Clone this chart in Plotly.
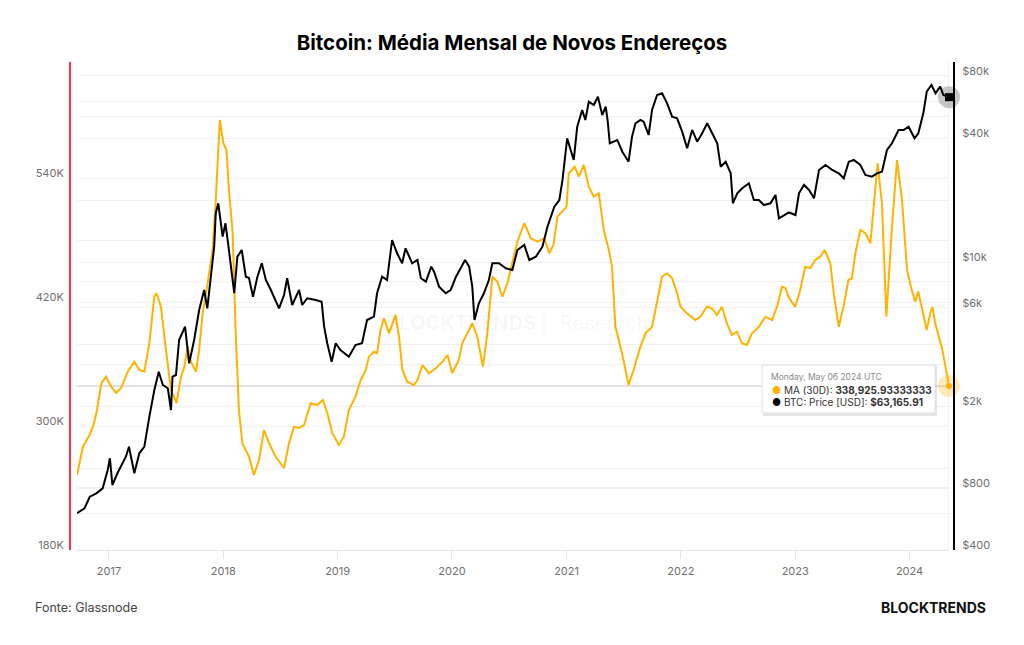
import plotly.graph_objects as go

# ---------------- data ----------------
ma_dates = ["2016-09-21","2016-10-10","2016-10-31","2016-11-11","2016-11-22","2016-12-08","2016-12-23",
"2017-01-08","2017-01-24","2017-02-09","2017-03-02","2017-03-23","2017-04-08","2017-04-24","2017-05-10",
"2017-05-26","2017-06-02","2017-06-16","2017-07-02","2017-07-18","2017-08-05","2017-08-19","2017-08-30",
"2017-09-09","2017-09-20","2017-10-06","2017-10-16","2017-10-27","2017-11-12","2017-11-28","2017-12-08",
"2017-12-21","2018-01-01","2018-01-11","2018-01-20","2018-01-31","2018-02-09","2018-02-20","2018-03-03",
"2018-03-24","2018-04-09","2018-04-25","2018-05-11","2018-05-27","2018-06-17","2018-07-14","2018-07-30",
"2018-08-15","2018-08-31","2018-09-16","2018-10-07","2018-10-28","2018-11-15","2018-11-29","2018-12-15",
"2019-01-05","2019-01-21","2019-02-06","2019-02-27","2019-03-16","2019-04-01","2019-04-11","2019-04-27",
"2019-05-07","2019-05-18","2019-05-29","2019-06-14","2019-06-25","2019-07-05","2019-07-16","2019-07-27",
"2019-08-11","2019-09-02","2019-09-13","2019-09-29","2019-10-20","2019-11-11","2019-12-02","2019-12-18",
"2020-01-02","2020-01-23","2020-02-03","2020-02-19","2020-03-06","2020-03-22","2020-04-09","2020-04-23",
"2020-05-09","2020-05-25","2020-06-10","2020-06-26","2020-07-12","2020-07-28","2020-08-19","2020-09-09",
"2020-09-30","2020-10-22","2020-11-07","2020-11-20","2020-12-03","2020-12-19","2021-01-01","2021-01-08",
"2021-01-27","2021-02-09","2021-02-25","2021-03-13","2021-03-29","2021-04-14","2021-04-30","2021-05-16",
"2021-05-26","2021-06-06","2021-06-27","2021-07-18","2021-08-03","2021-08-25","2021-09-10","2021-10-01",
"2021-10-17","2021-11-02","2021-11-18","2021-12-04","2021-12-20","2021-12-31","2022-01-20","2022-02-16",
"2022-03-04","2022-03-25","2022-04-10","2022-04-26","2022-05-12","2022-05-28","2022-06-13","2022-06-29",
"2022-07-15","2022-07-31","2022-08-16","2022-09-07","2022-09-28","2022-10-19","2022-11-04","2022-11-20",
"2022-12-01","2022-12-12","2023-01-01","2023-01-17","2023-02-02","2023-02-18","2023-03-06","2023-03-22",
"2023-04-05","2023-04-23","2023-05-04","2023-05-20","2023-06-04","2023-06-20","2023-07-01","2023-07-12",
"2023-07-28","2023-08-13","2023-08-29","2023-09-08","2023-09-21","2023-10-05","2023-10-19","2023-11-06",
"2023-11-22","2023-12-08","2023-12-24","2024-01-08","2024-01-19","2024-01-29","2024-02-09","2024-02-25",
"2024-03-07","2024-03-14","2024-03-23","2024-04-08","2024-04-15","2024-05-06"]
ma_values = [252700,280100,291500,299500,312800,341900,348000,
338300,332200,337000,352800,362500,354500,352800,380600,
425500,428800,415800,373900,335100,322500,348000,357700,
377100,362500,352800,373900,409400,438500,470800,519300,
596800,574500,567700,526000,487300,396400,315700,283400,
270400,252700,267200,296300,283700,270400,259500,283700,
299500,298300,301200,322200,320500,325400,312800,293400,
281800,289800,315700,328600,344800,354500,367400,372200,
370700,393200,404600,390000,399700,407800,386700,354500,
343100,339900,344800,359300,351300,356100,362500,369000,
351300,364200,380400,390000,399700,386700,357700,390000,
444900,440100,425500,438500,457900,478800,496700,482100,
478800,482100,467600,475600,503100,508000,512800,545100,
551500,541800,553200,532200,522500,525700,490200,470800,
454600,396400,371000,339900,354500,377100,390000,396400,
422300,444900,448200,443400,428800,415800,409400,402900,
406100,415800,414300,407800,415800,399700,388400,391600,
380400,378700,390000,396400,406100,402900,415800,435200,
433700,424300,415800,432000,454600,453100,461100,464300,
470800,457900,428800,396400,415800,441700,443400,467600,
490200,487000,477300,512800,554800,516100,406100,493400,
558000,519300,451400,432000,420700,430400,415800,393200,
409400,415800,399700,380400,373900,338925.93333333]

price_dates = ["2016-09-21","2016-10-15","2016-11-01","2016-11-22","2016-12-12","2016-12-28","2017-01-04",
"2017-01-12","2017-01-28","2017-02-13","2017-02-24","2017-03-06","2017-03-23","2017-04-08","2017-04-24",
"2017-05-10","2017-05-26","2017-06-09","2017-06-22","2017-07-08","2017-07-18","2017-07-23","2017-08-03",
"2017-08-13","2017-09-01","2017-09-14","2017-09-30","2017-10-16","2017-11-01","2017-11-11","2017-11-22",
"2017-12-03","2017-12-08","2017-12-16","2017-12-30","2018-01-08","2018-01-19","2018-02-05","2018-02-15",
"2018-03-01","2018-03-14","2018-03-24","2018-04-06","2018-04-20","2018-05-04","2018-05-17","2018-06-02",
"2018-06-17","2018-06-28","2018-07-14","2018-07-24","2018-08-09","2018-08-31","2018-09-10","2018-09-26",
"2018-10-23","2018-11-11","2018-11-19","2018-11-29","2018-12-13","2018-12-26","2019-01-10","2019-02-06",
"2019-02-27","2019-03-20","2019-04-05","2019-04-27","2019-05-07","2019-05-23","2019-06-08","2019-06-24",
"2019-07-10","2019-07-26","2019-08-06","2019-08-27","2019-09-13","2019-09-24","2019-10-10","2019-10-27",
"2019-11-05","2019-11-21","2019-12-12","2019-12-28","2020-01-14","2020-01-30","2020-02-12","2020-02-25",
"2020-03-06","2020-03-13","2020-03-27","2020-04-12","2020-04-28","2020-05-09","2020-05-30","2020-06-21",
"2020-07-12","2020-07-28","2020-08-19","2020-09-04","2020-09-25","2020-10-16","2020-11-01","2020-11-23",
"2020-12-09","2020-12-19","2021-01-03","2021-01-14","2021-01-24","2021-02-04","2021-02-20","2021-03-02",
"2021-03-13","2021-03-29","2021-04-11","2021-04-25","2021-05-06","2021-05-12","2021-05-19","2021-06-12",
"2021-06-28","2021-07-18","2021-07-29","2021-08-09","2021-08-25","2021-09-04","2021-09-20","2021-10-01",
"2021-10-17","2021-11-02","2021-11-18","2021-12-04","2021-12-20","2022-01-05","2022-01-21","2022-02-06",
"2022-02-22","2022-03-10","2022-03-26","2022-04-11","2022-04-27","2022-05-08","2022-05-24","2022-06-09",
"2022-06-16","2022-06-30","2022-07-16","2022-08-06","2022-08-22","2022-09-07","2022-09-23","2022-10-14",
"2022-10-30","2022-11-10","2022-11-26","2022-12-12","2023-01-02","2023-01-13","2023-01-29","2023-02-14",
"2023-03-02","2023-03-18","2023-04-08","2023-04-29","2023-05-20","2023-06-05","2023-06-21","2023-07-07",
"2023-07-28","2023-08-13","2023-09-03","2023-09-19","2023-10-05","2023-10-21","2023-11-06","2023-11-27",
"2023-12-13","2023-12-29","2024-01-17","2024-01-29","2024-02-14","2024-02-25","2024-03-11","2024-03-24",
"2024-04-08","2024-04-18","2024-05-06"]
price_values = [603,638,726,754,797,979,1115,
827,943,1055,1135,1269,943,1179,1269,
1775,2392,2935,2530,2439,1913,2776,2828,
4184,4854,3222,4184,5849,7317,5961,8180,
11870,17250,19280,13280,15420,11440,7054,10615,
11440,8490,8370,6787,8490,9858,8180,7317,
6543,5961,6918,8340,6186,7317,6186,6669,
6543,6420,4854,4032,3282,4032,3742,3471,
3956,4032,5230,5428,7054,8490,8180,12790,
11025,9858,11660,9858,10230,8340,8030,9494,
8975,7591,7054,7317,8490,9494,10230,9494,
7591,5230,6305,7054,8180,9858,9858,9322,
9144,11440,12100,10230,10615,11870,14840,18550,
20000,25030,39860,34980,31290,45390,54710,48910,
60020,57860,63470,51720,56760,48910,37710,39130,
34320,30700,40580,47140,48910,48000,41370,54710,
64700,65930,58970,50740,49850,42930,35650,43750,
38390,42170,47140,42170,37710,29020,30700,26960,
19280,21560,22810,24110,20000,20000,18910,19280,
21160,16300,16910,17400,16910,21560,23660,22380,
20390,27970,29580,27970,26960,25500,30700,31290,
29580,26460,25960,26960,27450,34980,37710,43750,
43750,45390,39860,42170,52710,67140,72350,65930,
70980,64700,63165.91]

left_tickvals = [180000, 240000, 300000, 360000, 420000, 480000, 540000, 600000]
left_ticktext = ["180K", "", "300K", "", "420K", "", "540K", ""]
right_tickvals = [400, 600, 800, 1000, 2000, 4000, 6000, 8000, 10000, 20000, 40000, 60000, 80000]
right_ticktext = ["$400", "", "$800", "", "$2k", "", "$6k", "", "$10k", "", "$40k", "", "$80k"]

hover_date = "2024-05-06"
hover_ma = 338925.93333333
hover_price = 63165.91

ORANGE = "#FFB300"
FONT = "Inter, Roboto, Arial, sans-serif"

fig = go.Figure()
fig.add_trace(go.Scatter(x=ma_dates, y=ma_values, mode="lines", yaxis="y",
                         line=dict(color=ORANGE, width=2), hoverinfo="skip"))
fig.add_trace(go.Scatter(x=price_dates, y=price_values, mode="lines", yaxis="y2",
                         line=dict(color="#000000", width=2), hoverinfo="skip"))
# hover markers at the last point
fig.add_trace(go.Scatter(x=[hover_date], y=[hover_ma], mode="markers", yaxis="y", cliponaxis=False,
                         marker=dict(size=22, color="rgba(255,179,0,0.28)"), hoverinfo="skip"))
fig.add_trace(go.Scatter(x=[hover_date], y=[hover_ma], mode="markers", yaxis="y", cliponaxis=False,
                         marker=dict(size=6, color=ORANGE), hoverinfo="skip"))
fig.add_trace(go.Scatter(x=[hover_date], y=[hover_price], mode="markers", yaxis="y2", cliponaxis=False,
                         marker=dict(size=22, color="rgba(0,0,0,0.22)"), hoverinfo="skip"))
fig.add_trace(go.Scatter(x=[hover_date], y=[hover_price], mode="markers", yaxis="y2", cliponaxis=False,
                         marker=dict(size=8, color="#000000", symbol="square"), hoverinfo="skip"))

W, H = 1024, 645
L, R, T, B = 70, 70, 62, 95
pw = W - L - R
ph = H - T - B

def px(x):
    return (x - L) / pw

def py(y):
    return (H - B - y) / ph

fig.update_layout(
    width=W, height=H,
    margin=dict(l=L, r=R, t=T, b=B),
    paper_bgcolor="white", plot_bgcolor="white",
    showlegend=False,
    font=dict(family=FONT, color="#707070", size=11),
    title=dict(text="<b>Bitcoin: Média Mensal de Novos Endereços</b>", x=0.5, xanchor="center",
               y=1 - 43 / H, yanchor="middle", font=dict(family=FONT, size=20.5, color="#000000")),
    xaxis=dict(type="date", range=[ma_dates[0], hover_date], domain=[px(77), px(949)],
               showgrid=False, showline=True, linecolor="#e6e6e6", linewidth=1,
               ticks="outside", ticklen=8, tickcolor="#e6e6e6", tickwidth=1,
               dtick="M12", tick0="2017-01-01", tickformat="%Y", ticklabelstandoff=3,
               tickfont=dict(size=11, color="#707070"), zeroline=False),
    yaxis=dict(range=[180000, 653000], anchor="free", position=0, side="left",
               tickvals=left_tickvals, ticktext=left_ticktext,
               showgrid=True, gridcolor="#f0f0f0", gridwidth=1, zeroline=False,
               showline=True, linecolor="#FF3344", linewidth=2, ticks="",
               ticklabelshift=-5, ticklabelstandoff=3, tickfont=dict(size=11, color="#707070")),
    yaxis2=dict(type="log", range=[2.60206, 4.9710], anchor="free", position=1, side="right",
                overlaying="y", tickvals=right_tickvals, ticktext=right_ticktext,
                showgrid=True, gridcolor="#f0f0f0", gridwidth=1, zeroline=False,
                showline=True, linecolor="#000000", linewidth=2, ticks="",
                ticklabelshift=-5, ticklabelstandoff=5, tickfont=dict(size=11, color="#707070")),
)

shapes = [
    # hover crosshair
    dict(type="line", xref="x", yref="y", x0=ma_dates[0], x1=hover_date, y0=hover_ma, y1=hover_ma,
         line=dict(color="#c4c4c4", width=1), layer="below"),
    dict(type="line", xref="x", yref="paper", x0=hover_date, x1=hover_date, y0=0, y1=1,
         line=dict(color="#e4e4e4", width=1), layer="below"),
    # watermark divider
    dict(type="line", xref="paper", yref="paper", x0=px(544), x1=px(544), y0=py(334), y1=py(312),
         line=dict(color="#f0f0f0", width=1), layer="below"),
    # tooltip shadow + box
    dict(type="rect", xref="paper", yref="paper", x0=px(763), x1=px(937), y0=py(416), y1=py(366),
         line=dict(width=0), fillcolor="rgba(0,0,0,0.10)", layer="above"),
    dict(type="rect", xref="paper", yref="paper", x0=px(762), x1=px(935), y0=py(413), y1=py(365),
         line=dict(color="#e2e2e2", width=1), fillcolor="white", layer="above"),
]
fig.update_layout(shapes=shapes)

ann = [
    dict(text="<b>BLOCKTRENDS</b>", x=px(461), y=py(323), xref="paper", yref="paper",
         showarrow=False, font=dict(family=FONT, size=20, color="rgba(0,0,0,0.04)")),
    dict(text="Research", x=px(604), y=py(323), xref="paper", yref="paper",
         showarrow=False, font=dict(family=FONT, size=20, color="rgba(0,0,0,0.04)")),
    dict(text="Monday, May 06 2024 UTC", x=px(769), y=py(377), xref="paper", yref="paper",
         xanchor="left", yanchor="middle", showarrow=False,
         font=dict(family=FONT, size=8.5, color="#8a8a8a")),
    dict(text=f"<span style='color:{ORANGE}'>●</span> MA (30D): <b>338,925.93333333</b>",
         x=px(770), y=py(390), xref="paper", yref="paper", xanchor="left", yanchor="middle",
         showarrow=False, font=dict(family=FONT, size=10, color="#333333")),
    dict(text="<span style='color:#000000'>●</span> BTC: Price [USD]: <b>$63,165.91</b>",
         x=px(770), y=py(402), xref="paper", yref="paper", xanchor="left", yanchor="middle",
         showarrow=False, font=dict(family=FONT, size=10, color="#333333")),
    dict(text="Fonte: Glassnode", x=px(33), y=py(607), xref="paper", yref="paper",
         xanchor="left", yanchor="middle", showarrow=False,
         font=dict(family=FONT, size=12.5, color="#444444")),
    dict(text="<b>BLOCKTRENDS</b>", x=px(988), y=py(607), xref="paper", yref="paper",
         xanchor="right", yanchor="middle", showarrow=False,
         font=dict(family=FONT, size=14, color="#111111")),
]
fig.update_layout(annotations=ann)

fig.write_html("out.html", config={"displayModeBar": False})
